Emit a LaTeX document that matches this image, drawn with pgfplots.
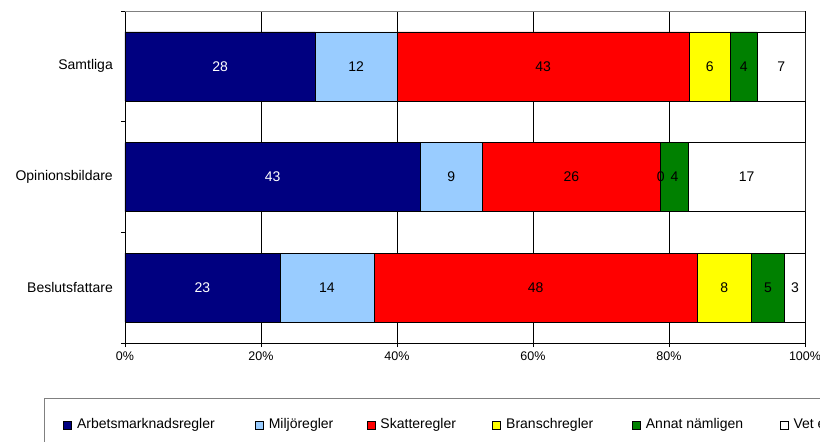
\documentclass[border=0pt]{standalone}
\usepackage{pgfplots}
\pgfplotsset{compat=1.18}
\usepackage{pgfplotstable}
\usepackage{fontspec}
\setmainfont{Liberation Sans}
\definecolor{c1}{RGB}{0,0,128}
\definecolor{c2}{RGB}{153,204,255}
\definecolor{c3}{RGB}{255,0,0}
\definecolor{c4}{RGB}{255,255,0}
\definecolor{c5}{RGB}{0,128,0}
\definecolor{c6}{RGB}{255,255,255}

% shares in percent of each row total; y: 0=Beslutsfattare, 1=Opinionsbildare, 2=Samtliga
\pgfplotstableread{
y a b c d e f
0 22.772 13.861 47.525 7.921 4.950 2.970
1 43.434 9.091 26.263 0 4.040 17.172
2 28 12 43 6 4 7
}\shares

% value labels at the centre of each segment
\pgfplotstableread{
y x lab
0 11.386 23
1 21.717 43
2 14 28
}\labwhite
\pgfplotstableread{
y x lab
0 29.703 14
0 60.396 48
0 88.119 8
0 94.554 5
0 98.515 3
1 47.980 9
1 65.657 26
1 78.788 0
1 80.808 4
1 91.414 17
2 34 12
2 61.5 43
2 86 6
2 91 4
2 96.5 7
}\labblack

\begin{document}
\begin{tikzpicture}
\useasboundingbox (-125pt,-99pt) rectangle (695pt,343pt);
\clip (-125pt,-99pt) rectangle (695pt,343pt);
\begin{axis}[
  scale only axis, width=680pt, height=332pt,
  xbar stacked, bar width=69pt,
  xmin=0, xmax=100, ymin=-0.5, ymax=2.5,
  axis x line*=bottom, axis y line*=left,
  axis line style={black, line width=0.8pt},
  xtick={0,20,40,60,80,100},
  xticklabels={0\%,20\%,40\%,60\%,80\%,100\%},
  xmajorgrids, major grid style={black, line width=0.8pt},
  ytick={-0.5,0.5,1.5,2.5},
  yticklabels={},
  tick align=outside, major tick length=4pt,
  tick style={black, line width=0.8pt},
  extra y ticks={0,1,2},
  extra y tick labels={Beslutsfattare,Opinionsbildare,Samtliga},
  extra y tick style={major tick length=0pt, grid=none},
  yticklabel style={font=\fontsize{14}{16}\selectfont, inner sep=0pt, xshift=-12pt},
  xticklabel style={font=\fontsize{12.5}{15}\selectfont, inner sep=0pt, yshift=-5pt},
  legend columns=6,
  legend image code/.code={\draw[#1, draw=black, line width=0.6pt] (0pt,-4pt) rectangle (8pt,4pt); \path (13pt,0pt);},
  legend style={
    at={(axis description cs:-0.11912,-0.16566)}, anchor=north west,
    draw=gray, line width=0.8pt, inner xsep=19pt, inner ysep=20pt,
    font=\fontsize{14}{16}\selectfont,
    nodes={inner sep=0pt, text height=10pt, text depth=3pt},
    /tikz/column sep=0pt,
  },
]
\addplot[fill=c1, draw=black, line width=0.6pt, forget plot] table[x=a,y=y]{\shares};
\addplot[fill=c2, draw=black, line width=0.6pt, forget plot] table[x=b,y=y]{\shares};
\addplot[fill=c3, draw=black, line width=0.6pt, forget plot] table[x=c,y=y]{\shares};
\addplot[fill=c4, draw=black, line width=0.6pt, forget plot] table[x=d,y=y]{\shares};
\addplot[fill=c5, draw=black, line width=0.6pt, forget plot] table[x=e,y=y]{\shares};
\addplot[fill=c6, draw=black, line width=0.6pt, forget plot] table[x=f,y=y]{\shares};
\addlegendimage{fill=c1}\addlegendentry{\makebox[178pt][l]{Arbetsmarknadsregler}}
\addlegendimage{fill=c2}\addlegendentry{\makebox[98pt][l]{Miljöregler}}
\addlegendimage{fill=c3}\addlegendentry{\makebox[112pt][l]{Skatteregler}}
\addlegendimage{fill=c4}\addlegendentry{\makebox[126pt][l]{Branschregler}}
\addlegendimage{fill=c5}\addlegendentry{\makebox[134pt][l]{Annat nämligen}}
\addlegendimage{fill=c6}\addlegendentry{\makebox[60pt][l]{Vet ej}}
\draw[gray, line width=0.8pt] (rel axis cs:0,1) -- (rel axis cs:1,1);
\end{axis}
\begin{axis}[
  scale only axis, width=680pt, height=332pt,
  xmin=0, xmax=100, ymin=-0.5, ymax=2.5, hide axis,
  nodes near coords, point meta=explicit symbolic,
  every node near coord/.append style={anchor=center, font=\fontsize{14}{16}\selectfont, inner sep=0pt},
]
\addplot[only marks, mark=none, nodes near coords style={text=white}] table[x=x,y=y,meta=lab]{\labwhite};
\addplot[only marks, mark=none, nodes near coords style={text=black}] table[x=x,y=y,meta=lab]{\labblack};
\end{axis}
\end{tikzpicture}
\end{document}
